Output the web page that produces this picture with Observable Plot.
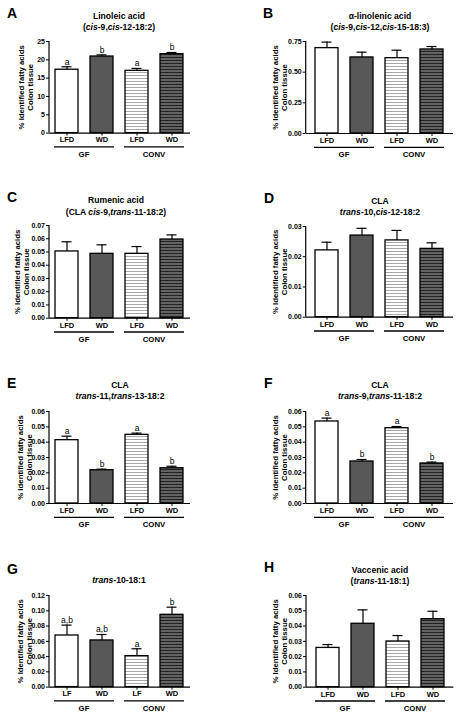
<!DOCTYPE html>
<html>
<head>
<meta charset="utf-8">
<script src="https://cdn.jsdelivr.net/npm/d3@7"></script>
<script src="https://cdn.jsdelivr.net/npm/@observablehq/plot@0.6"></script>
<style>
  html, body { margin: 0; padding: 0; background: #fff; }
  #page { position: relative; width: 456px; height: 717px; overflow: hidden; font-family: "Liberation Sans", Arial, sans-serif; color: #000; }
  .panel { position: absolute; overflow: visible; }
  .letter { position: absolute; font-weight: bold; font-size: 14px; line-height: 1; transform: translateY(-50%); }
  .title { position: absolute; font-weight: bold; font-size: 8.6px; line-height: 1; white-space: nowrap; transform: translate(-50%, -50%); }
</style>
</head>
<body>
<div id="page">
  <svg width="0" height="0" style="position:absolute">
    <defs>
      <pattern id="hatchLight" patternUnits="userSpaceOnUse" width="4" height="3">
        <rect width="4" height="3" fill="#ffffff"></rect>
        <rect y="2" width="4" height="1" fill="#a6a6a6"></rect>
      </pattern>
      <pattern id="hatchDark" patternUnits="userSpaceOnUse" width="4" height="3">
        <rect width="4" height="3" fill="#636363"></rect>
        <rect y="2" width="4" height="1" fill="#222222"></rect>
      </pattern>
    </defs>
  </svg>
</div>
<script>
// ---------- data ----------
const barKeys = ["GF-LFD", "GF-WD", "CONV-LFD", "CONV-WD"];
const groupNames = ["GF", "CONV"];
const dietLabels = ["LFD", "WD", "LFD", "WD"];
const dietLabelsLF = ["LF", "WD", "LF", "WD"];
const barFills = ["#ffffff", "#585858", "url(#hatchLight)", "url(#hatchDark)"];
const yTitle = "% Identified fatty acids\nColon tissue";

const linoleicMean = [17.3, 20.9, 17.0, 21.55];
const linoleicSem = [0.8, 0.45, 0.65, 0.45];
const linoleicSig = ["a", "b", "a", "b"];
const linoleicTicks = [0, 5, 10, 15, 20, 25];

const alphaLinolenicMean = [0.696, 0.620, 0.614, 0.685];
const alphaLinolenicSem = [0.049, 0.043, 0.065, 0.024];
const alphaLinolenicTicks = [0, 0.25, 0.5, 0.75];

const rumenicMean = [0.0504, 0.0486, 0.0486, 0.0594];
const rumenicSem = [0.0073, 0.0068, 0.0055, 0.0035];
const rumenicTicks = [0, 0.01, 0.02, 0.03, 0.04, 0.05, 0.06, 0.07];

const claT10C12Mean = [0.0221, 0.0270, 0.0254, 0.0226];
const claT10C12Sem = [0.0027, 0.0024, 0.0033, 0.0020];
const claT10C12Ticks = [0, 0.01, 0.02, 0.03];

const claT11T13Mean = [0.0413, 0.0217, 0.0448, 0.0230];
const claT11T13Sem = [0.0026, 0.0007, 0.0011, 0.0013];
const claT11T13Sig = ["a", "b", "a", "b"];
const claT11T13Ticks = [0, 0.01, 0.02, 0.03, 0.04, 0.05, 0.06];

const claT9T11Mean = [0.0535, 0.0274, 0.0491, 0.0261];
const claT9T11Sem = [0.0022, 0.0013, 0.0011, 0.0009];
const claT9T11Sig = ["a", "b", "a", "b"];
const claT9T11Ticks = [0, 0.01, 0.02, 0.03, 0.04, 0.05, 0.06];

const trans10Mean = [0.0676, 0.0611, 0.0406, 0.0947];
const trans10Sem = [0.0136, 0.0078, 0.0096, 0.0100];
const trans10Sig = ["a,b", "a,b", "a", "b"];
const trans10Ticks = [0, 0.02, 0.04, 0.06, 0.08, 0.10, 0.12];

const vaccenicMean = [0.0257, 0.0415, 0.0299, 0.0445];
const vaccenicSem = [0.0022, 0.0091, 0.0039, 0.0052];
const vaccenicTicks = [0, 0.01, 0.02, 0.03, 0.04, 0.05, 0.06];

// ---------- panel definitions ----------
const f2 = d3.format(".2f");
const fint = d3.format("d");
const panels = [
  {letter: "A", titles: ["Linoleic acid", "(<i>cis</i>-9,<i>cis</i>-12-18:2)"], mean: linoleicMean, sem: linoleicSem, sig: linoleicSig, ticks: linoleicTicks, fmt: fint, diet: dietLabels},
  {letter: "B", titles: ["&alpha;-linolenic acid", "(<i>cis</i>-9,<i>cis</i>-12,<i>cis</i>-15-18:3)"], mean: alphaLinolenicMean, sem: alphaLinolenicSem, sig: null, ticks: alphaLinolenicTicks, fmt: f2, diet: dietLabels},
  {letter: "C", titles: ["Rumenic acid", "(CLA <i>cis</i>-9,<i>trans</i>-11-18:2)"], mean: rumenicMean, sem: rumenicSem, sig: null, ticks: rumenicTicks, fmt: f2, diet: dietLabels},
  {letter: "D", titles: ["CLA", "<i>trans</i>-10,<i>cis</i>-12-18:2"], mean: claT10C12Mean, sem: claT10C12Sem, sig: null, ticks: claT10C12Ticks, fmt: f2, diet: dietLabels},
  {letter: "E", titles: ["CLA", "<i>trans</i>-11,<i>trans</i>-13-18:2"], mean: claT11T13Mean, sem: claT11T13Sem, sig: claT11T13Sig, ticks: claT11T13Ticks, fmt: f2, diet: dietLabels},
  {letter: "F", titles: ["CLA", "<i>trans</i>-9,<i>trans</i>-11-18:2"], mean: claT9T11Mean, sem: claT9T11Sem, sig: claT9T11Sig, ticks: claT9T11Ticks, fmt: f2, diet: dietLabels},
  {letter: "G", titles: ["<i>trans</i>-10-18:1"], mean: trans10Mean, sem: trans10Sem, sig: trans10Sig, ticks: trans10Ticks, fmt: f2, diet: dietLabelsLF},
  {letter: "H", titles: ["Vaccenic acid", "(<i>trans</i>-11-18:1)"], mean: vaccenicMean, sem: vaccenicSem, sig: null, ticks: vaccenicTicks, fmt: f2, diet: dietLabels}
];

// ---------- layout (page pixel positions) ----------
const layouts = [
  {left: 0,   axisX: 49,    top: 40.7,  bottom: 132.3, letterX: 7,   letterY: 13.3,  titleX: 119, titleY: [15.7, 26.7],  yTitleX: 25},
  {left: 228, axisX: 305.7, top: 40.7,  bottom: 132.7, letterX: 263, letterY: 13.3,  titleX: 380, titleY: [15.7, 26.7],  yTitleX: 279.5},
  {left: 0,   axisX: 49,    top: 225,   bottom: 317.7, letterX: 7,   letterY: 197.3, titleX: 116, titleY: [200, 212.3],  yTitleX: 21},
  {left: 228, axisX: 305.7, top: 226,   bottom: 316.7, letterX: 264, letterY: 198.3, titleX: 380, titleY: [200.7, 211.7], yTitleX: 279.5},
  {left: 0,   axisX: 49,    top: 410.7, bottom: 502.7, letterX: 7,   letterY: 382.7, titleX: 120, titleY: [385, 396],    yTitleX: 24},
  {left: 228, axisX: 305.7, top: 410.7, bottom: 502.7, letterX: 264, letterY: 383.3, titleX: 380, titleY: [385, 396],    yTitleX: 279.5},
  {left: 0,   axisX: 49,    top: 594.7, bottom: 686.3, letterX: 7,   letterY: 568.7, titleX: 119, titleY: [580.3],       yTitleX: 24},
  {left: 228, axisX: 306,   top: 595.3, bottom: 687,   letterX: 264, letterY: 567,   titleX: 380, titleY: [570.3, 581],  yTitleX: 279.5}
];

const page = document.getElementById("page");
const FONT = '"Liberation Sans", Arial, sans-serif';

panels.forEach((cfg, pi) => {
  const L = layouts[pi];
  const W = 228, padTop = 10, padBottom = 30;
  const H = (L.bottom - L.top) + padTop + padBottom;
  const isRight = L.left > 0;
  const x0 = L.axisX - L.left;
  const xEnd = x0 + (isRight ? 147.3 : 141);
  const rows = barKeys.map((k, i) => ({
    key: k, mean: cfg.mean[i], top: cfg.mean[i] + cfg.sem[i],
    sig: cfg.sig ? cfg.sig[i] : "", fill: barFills[i]
  }));

  const chart = Plot.plot({
    width: W, height: H,
    marginTop: padTop, marginBottom: padBottom, marginLeft: x0, marginRight: W - xEnd,
    style: {fontFamily: FONT, background: "transparent", overflow: "visible", color: "#000"},
    x: {domain: barKeys, paddingInner: isRight ? 0.35 : 0.33, paddingOuter: isRight ? 0.27 : 0.157},
    y: {domain: [0, cfg.ticks[cfg.ticks.length - 1]]},
    color: {type: "identity"},
    marks: [
      Plot.barY(rows, {x: "key", y: "mean", fill: "fill", stroke: "#000", strokeWidth: 1.3}),
      Plot.ruleX(rows, {x: "key", y1: "mean", y2: "top", stroke: "#000", strokeWidth: 1.2}),
      Plot.tickY(rows, {x: "key", y: "top", stroke: "#000", strokeWidth: 1.2, insetLeft: 6.5, insetRight: 6.5}),
      Plot.text(rows, {x: "key", y: "top", text: "sig", dy: -5, fontSize: 8.5, fill: "black"}),
      Plot.ruleY([0], {stroke: "#000", strokeWidth: 1.2}),
      Plot.axisY({ticks: cfg.ticks, tickFormat: cfg.fmt, tickSize: 3, tickPadding: 1.5, fontSize: 7, fontWeight: "bold", label: null}),
      Plot.axisX({tickSize: 3, tickPadding: 1, tickFormat: k => cfg.diet[barKeys.indexOf(k)], fontSize: 7.5, fontWeight: "bold", label: null}),
      Plot.text([yTitle], {frameAnchor: "left", textAnchor: "middle", lineAnchor: "middle", rotate: -90, dx: L.yTitleX - L.axisX, fontSize: 7.8, fontWeight: "bold", lineHeight: 1.15, fill: "black"})
    ]
  });

  const svg = d3.select(chart);
  const ys = chart.scale("y");
  const xs = chart.scale("x");
  const base = ys.range[0];
  // y-axis line
  svg.append("line")
    .attr("x1", x0).attr("x2", x0).attr("y1", ys.range[0]).attr("y2", ys.range[1])
    .attr("stroke", "#000").attr("stroke-width", 1.2);
  // group underlines and labels
  const bw = xs.bandwidth;
  groupNames.forEach((g, gi) => {
    const a = xs.apply(barKeys[gi * 2]) - 1;
    const b = xs.apply(barKeys[gi * 2 + 1]) + bw + 1;
    svg.append("line")
      .attr("x1", a).attr("x2", b).attr("y1", base + 14.3).attr("y2", base + 14.3)
      .attr("stroke", "#000").attr("stroke-width", 1.3);
    svg.append("text")
      .attr("x", (a + b) / 2).attr("y", base + 21.6).attr("dy", "0.35em")
      .attr("text-anchor", "middle").attr("font-size", 7.8).attr("font-weight", "bold")
      .attr("font-family", FONT).text(g);
  });

  chart.classList.add("panel");
  chart.style.left = L.left + "px";
  chart.style.top = (L.top - padTop) + "px";
  chart.style.position = "absolute";
  page.appendChild(chart);

  // panel letter
  const letter = document.createElement("div");
  letter.className = "letter";
  letter.style.left = L.letterX + "px";
  letter.style.top = L.letterY + "px";
  letter.textContent = cfg.letter;
  page.appendChild(letter);

  // titles
  cfg.titles.forEach((t, ti) => {
    const d = document.createElement("div");
    d.className = "title";
    d.style.left = L.titleX + "px";
    d.style.top = L.titleY[ti] + "px";
    d.innerHTML = t;
    page.appendChild(d);
  });
});
</script>
</body>
</html>
